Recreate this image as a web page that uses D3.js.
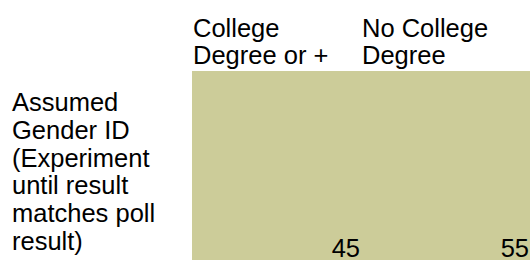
<!DOCTYPE html>
<html>
<head>
<meta charset="utf-8">
<script src="https://cdn.jsdelivr.net/npm/d3@7"></script>
<style>
  html, body { margin: 0; padding: 0; background: #fff; }
  svg { display: block; font-family: "Liberation Sans", Arial, sans-serif; }
</style>
</head>
<body>
<svg width="531" height="260"></svg>
<script>
// data
const columnLabels = [["College", "Degree or +"], ["No College", "Degree"]];
const rowLabels = [["Assumed", "Gender ID", "(Experiment", "until result", "matches poll", "result)"]];
const values = [[45, 55]];

const svgWidth = 531;
const svgHeight = 260;
const fontSize = 25.5;
const lineHeight = 27.8;
const margin = { top: 71, right: 1, bottom: 0, left: 192 };

const svg = d3.select('svg');

// scales
const x = d3.scaleBand()
    .domain(d3.range(columnLabels.length))
    .range([margin.left, svgWidth - margin.right]);
const y = d3.scaleBand()
    .domain(d3.range(rowLabels.length))
    .range([margin.top, svgHeight - margin.bottom]);

// cells
const cells = [];
values.forEach((row, r) => row.forEach((v, c) => cells.push({ r, c, v })));

svg.append('g')
    .selectAll('rect')
    .data(cells)
    .enter().append('rect')
    .attr('x', d => x(d.c))
    .attr('y', d => y(d.r))
    .attr('width', x.bandwidth())
    .attr('height', y.bandwidth())
    .attr('fill', '#cccc99');

// cell values, right aligned at the bottom
svg.append('g')
    .selectAll('text')
    .data(cells)
    .enter().append('text')
    .attr('x', d => x(d.c) + x.bandwidth() - 1)
    .attr('y', d => y(d.r) + y.bandwidth() - 3)
    .attr('text-anchor', 'end')
    .attr('font-size', fontSize)
    .attr('fill', '#000')
    .text(d => d.v);

// column headers
const headers = svg.append('g')
    .selectAll('text')
    .data(columnLabels)
    .enter().append('text')
    .attr('font-size', fontSize)
    .attr('fill', '#000');
headers.selectAll('tspan')
    .data((d, i) => d.map(line => ({ line, i })))
    .enter().append('tspan')
    .attr('x', d => x(d.i) + 1)
    .attr('y', (d, j) => 37 + j * 26.5)
    .text(d => d.line);

// row headers
const rows = svg.append('g')
    .selectAll('text')
    .data(rowLabels)
    .enter().append('text')
    .attr('font-size', fontSize)
    .attr('fill', '#000');
rows.selectAll('tspan')
    .data((d, i) => d.map(line => ({ line, i })))
    .enter().append('tspan')
    .attr('x', 12)
    .attr('y', (d, j) => y(d.i) + 40 + j * lineHeight)
    .text(d => d.line);
</script>
</body>
</html>
